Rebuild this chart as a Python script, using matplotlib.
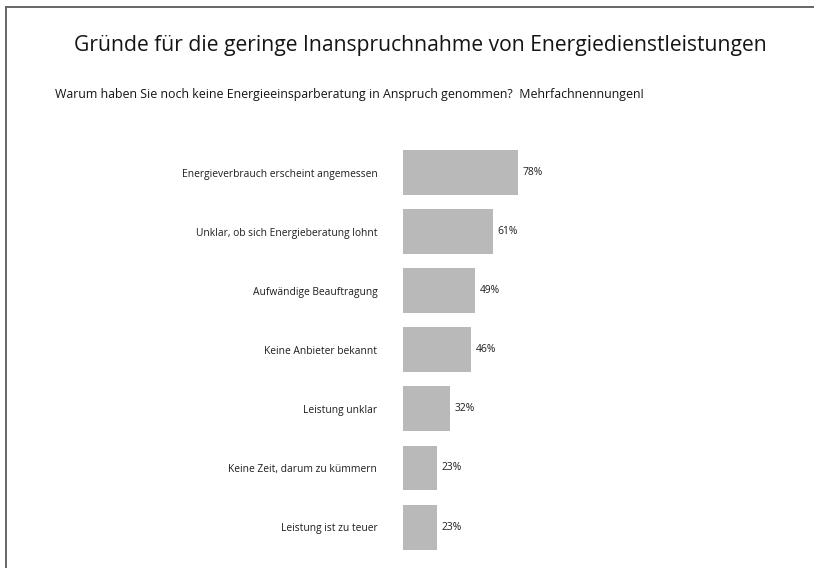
import matplotlib.pyplot as plt
from matplotlib.lines import Line2D

plt.rcParams['font.family'] = ['Open Sans', 'DejaVu Sans']

reasons = [
    "Energieverbrauch erscheint angemessen",
    "Unklar, ob sich Energieberatung lohnt",
    "Aufwändige Beauftragung",
    "Keine Anbieter bekannt",
    "Leistung unklar",
    "Keine Zeit, darum zu kümmern",
    "Leistung ist zu teuer",
]
shares = [78, 61, 49, 46, 32, 23, 23]

W, H = 814, 568
fig = plt.figure(figsize=(W / 100, H / 100), dpi=100)

# axes placed in pixel units: x=0 at 403px, 1.474 px per percent
x0, px_per = 403, 1.474
top, bottom = 143, 556.6
ax = fig.add_axes([x0 / W, 1 - bottom / H, 100 * px_per / W, (bottom - top) / H])

ypos = list(range(len(reasons)))
ax.barh(ypos, shares, height=0.76, color="#b9b9b9")
ax.set_xlim(0, 100)
ax.set_ylim(len(reasons) - 0.5, -0.5)
ax.set_yticks(ypos)
ax.set_yticklabels(reasons, fontsize=7.4, color="#1e1e1e")
ax.tick_params(axis="y", length=0, pad=18.5)
ax.set_xticks([])
for s in ax.spines.values():
    s.set_visible(False)

for y, v in zip(ypos, shares):
    ax.annotate(f"{v}%", (v, y), xytext=(3.4, 0), textcoords="offset points",
                ha="left", va="center", fontsize=7.4, color="#1e1e1e")

fig.text(420 / W, 1 - 46 / H, "Gründe für die geringe Inanspruchnahme von Energiedienstleistungen",
         ha="center", va="center", fontsize=15.2, color="#151515")
fig.text(55 / W, 1 - 95 / H,
         "Warum haben Sie noch keine Energieeinsparberatung in Anspruch genommen?  Mehrfachnennungen!",
         ha="left", va="center", fontsize=8.9, color="#151515")

# frame lines at top and left
fig.add_artist(Line2D([6 / W, 1], [1 - 7 / H, 1 - 7 / H], color="#666666", lw=1.4))
fig.add_artist(Line2D([6 / W, 6 / W], [1 - 7 / H, 0], color="#666666", lw=1.4))

fig.savefig("out.png", dpi=100)
